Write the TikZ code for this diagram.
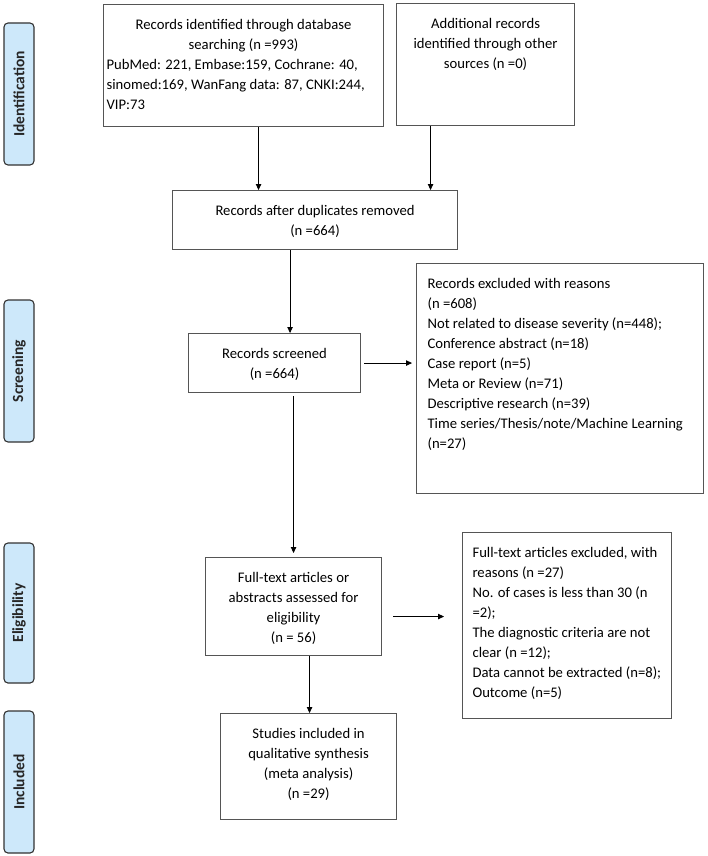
\documentclass[tikz,border=0pt]{standalone}
\usepackage{fontspec}
\setmainfont{Carlito}
\usetikzlibrary{arrows.meta,positioning}
\definecolor{tabblue}{RGB}{205,232,250}
\definecolor{tabline}{RGB}{50,50,50}
\definecolor{boxline}{RGB}{85,85,85}
\newcommand{\boxtxt}[3]{\parbox[b][#2][t]{#1}{\raggedright\vspace*{11pt}\strut #3}}

\begin{document}
\begin{tikzpicture}[x=1pt,y=-1pt,
  font=\fontsize{14.67}{20}\selectfont,
  box/.style={draw=boxline,line width=1.1pt,anchor=north west,inner ysep=0pt,inner xsep=4pt},
  tab/.style={draw=tabline,fill=tabblue,line width=1.1pt,rounded corners=4pt,rotate=90,
    minimum height=30pt,inner sep=0pt,text=black!85,font=\fontsize{15.5}{17}\selectfont\bfseries},
  arr/.style={-{Triangle[length=6pt,width=5.5pt]},line width=0.9pt}]
\useasboundingbox (0,0) rectangle (708,856);

\foreach \i/\ya/\yb/\lab in {id/23/165/Identification,scr/300/442/Screening,elig/543/683/Eligibility,inc/711/853/Included}
  \node[tab,minimum width={\yb-\ya}] (t\i) at (19,{(\ya+\yb)/2}) {\lab};

\node[box,inner xsep=3pt] (db) at (103,4) {\boxtxt{274pt}{122pt}{{\centering Records identified through database\\ searching (n =993)\par}PubMed: 221, Embase:159, Cochrane: 40,\\ sinomed:169, WanFang data: 87, CNKI:244,\\ VIP:73}};
\node[box] (add) at (396,3) {\boxtxt{170pt}{122pt}{\centering Additional records\\ identified through other\\ sources (n =0)}};
\node[box] (dup) at (172,190) {\boxtxt{277pt}{59pt}{\centering Records after duplicates removed\\ (n =664)}};
\node[box] (scr) at (188,333) {\boxtxt{164pt}{59pt}{\centering Records screened\\ (n =664)}};
\node[box,inner xsep=11pt] (exc) at (416,263) {\boxtxt{265pt}{230pt}{Records excluded with reasons\\ (n =608)\\ Not related to disease severity (n=448);\\ Conference abstract (n=18)\\ Case report (n=5)\\ Meta or Review (n=71)\\ Descriptive research (n=39)\\ Time series/Thesis/note/Machine Learning\\ (n=27)}};
\node[box] (ft) at (205,557) {\boxtxt{168pt}{98pt}{\centering Full-text articles or\\ abstracts assessed for\\ eligibility\\ (n = 56)}};
\node[box,inner xsep=10pt] (ftx) at (462,532) {\boxtxt{189pt}{186pt}{Full-text articles excluded, with\\ reasons (n =27)\\ No. of cases is less than 30 (n\\ =2);\\ The diagnostic criteria are not\\ clear (n =12);\\ Data cannot be extracted (n=8);\\ Outcome (n=5)}};
\node[box] (inc) at (220,713) {\boxtxt{168pt}{106pt}{\centering Studies included in\\ qualitative synthesis\\ (meta analysis)\\ (n =29)}};

\draw[arr] ([xshift=15pt]db.south) -- ([xshift=15pt]db.south |- dup.north);
\draw[arr] ([xshift=-55pt]add.south) -- ([xshift=-55pt]add.south |- dup.north);
\draw[arr] ([xshift=-25pt]dup.south) -- ([xshift=-25pt]dup.south |- scr.north);
\draw[arr,shorten <=3pt,shorten >=4pt] (scr.east) -- (scr.east -| exc.west);
\draw[arr,shorten <=3pt,shorten >=4pt] ([xshift=19pt]scr.south) -- (ft.north);
\draw[arr,shorten <=11pt,shorten >=18pt] ([yshift=-10pt]ft.east) -- ([yshift=-10pt]ft.east -| ftx.west);
\draw[arr] ([xshift=16pt]ft.south) -- ([xshift=16pt]ft.south |- inc.north);

\end{tikzpicture}
\end{document}
